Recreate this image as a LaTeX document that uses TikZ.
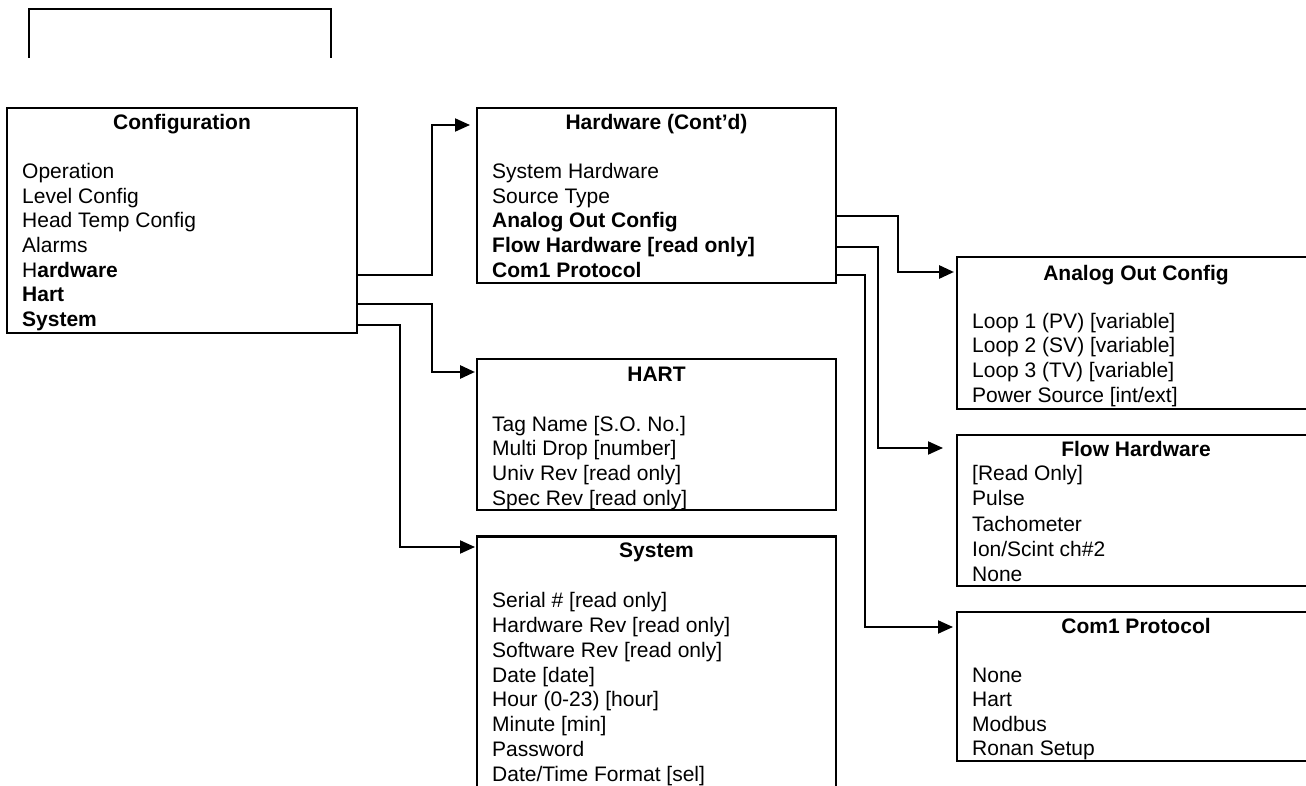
\documentclass[tikz,border=0pt]{standalone}
\usepackage{fontspec}
\setmainfont{Liberation Sans}
\usetikzlibrary{arrows.meta}
\begin{document}
\begin{tikzpicture}[x=1pt,y=-1pt,
  box/.style={draw,line width=2.2pt,rectangle,anchor=north west,inner sep=0pt,outer sep=0pt},
  ttl/.style={anchor=base,inner sep=0pt,font=\fontsize{21}{24}\selectfont\bfseries},
  item/.style={anchor=base west,inner sep=0pt,font=\fontsize{21}{24}\selectfont},
  conn/.style={line width=2pt,-{Triangle[length=15pt,width=13pt]}},
]
\useasboundingbox (0,0) rectangle (1306,786);
\clip (0,0) rectangle (1306,786);

% top partial box
\draw[line width=2.2pt] (29,58) -- (29,9) -- (331,9) -- (331,58);

% boxes
\node[box,minimum width=350pt,minimum height=225pt] (cfg) at (7,108) {};
\node[box,minimum width=359pt,minimum height=175pt] (hw) at (477,108) {};
\node[box,minimum width=359pt,minimum height=151pt] (hart) at (477,359) {};
\node[box,minimum width=359pt,minimum height=280pt] (sys) at (477,536.5) {};
\node[box,minimum width=358pt,minimum height=152pt] (aoc) at (957,257) {};
\node[box,minimum width=358pt,minimum height=151pt] (flow) at (957,435) {};
\node[box,minimum width=358pt,minimum height=149pt] (com) at (957,612) {};

% Configuration
\node[ttl] (cfg-t) at (182,130) {Configuration};
\foreach \t [count=\i from 0] in {Operation, Level Config, Head Temp Config, Alarms,
  {H\textbf{ardware}}, \textbf{Hart}, \textbf{System}}
  \node[item] (cfg-\i) at (22,{179+\i*24.5}) {\t};

% Hardware (Cont'd)
\node[ttl] (hw-t) at (656.5,130) {Hardware (Cont’d)};
\foreach \t [count=\i from 0] in {System Hardware, Source Type, \textbf{Analog Out Config},
  \textbf{Flow Hardware [read only]}, \textbf{Com1 Protocol}}
  \node[item] (hw-\i) at (492,{179+\i*24.5}) {\t};

% HART
\node[ttl] (hart-t) at (656.5,381) {HART};
\foreach \t [count=\i from 0] in {{Tag Name [S.O. No.]}, {Multi Drop [number]},
  {Univ Rev [read only]}, {Spec Rev [read only]}}
  \node[item] (hart-\i) at (492,{431+\i*24.7}) {\t};

% System
\node[ttl] (sys-t) at (656.5,557) {System};
\foreach \t [count=\i from 0] in {{Serial \# [read only]}, {Hardware Rev [read only]},
  {Software Rev [read only]}, {Date [date]}, {Hour (0-23) [hour]}, {Minute [min]},
  Password, {Date/Time Format [sel]}}
  \node[item] (sys-\i) at (492,{607.7+\i*24.8}) {\t};

% Analog Out Config
\node[ttl] (aoc-t) at (1136,280) {Analog Out Config};
\foreach \t [count=\i from 0] in {{Loop 1 (PV) [variable]}, {Loop 2 (SV) [variable]},
  {Loop 3 (TV) [variable]}, {Power Source [int/ext]}}
  \node[item] (aoc-\i) at (972,{328+\i*24.7}) {\t};

% Flow Hardware
\node[ttl] (flow-t) at (1136,456) {Flow Hardware};
\foreach \t [count=\i from 0] in {{[Read Only]}, Pulse, Tachometer, {Ion/Scint ch\#2}, None}
  \node[item] (flow-\i) at (972,{480.5+\i*25.3}) {\t};

% Com1 Protocol
\node[ttl] (com-t) at (1136,633.5) {Com1 Protocol};
\foreach \t [count=\i from 0] in {None, Hart, Modbus, Ronan Setup}
  \node[item] (com-\i) at (972,{682+\i*24.6}) {\t};

% connectors from Configuration
\draw[conn] ([yshift=2pt]cfg-4.base -| cfg.east) -- ++(75,0)
  |- ([xshift=-7pt,yshift=5pt]hw-t.base -| hw.west);
\draw[conn,line width=2.8pt] ([yshift=-2.5pt]cfg-5.base -| cfg.east) -- ++(75,0)
  |- ([xshift=-2pt,yshift=9pt]hart-t.base -| hart.west);
\draw[conn] ([yshift=1pt]cfg-6.base -| cfg.east) -- ++(43,0)
  |- ([xshift=-2pt,yshift=10pt]sys-t.base -| sys.west);

% connectors from Hardware (Cont'd)
\draw[conn,line width=2.8pt] ([yshift=12pt]hw-2.base -| hw.east) -- ++(62,0)
  |- ([xshift=-3pt,yshift=8pt]aoc-t.base -| aoc.west);
\draw[conn] ([yshift=5.5pt]hw-3.base -| hw.east) -- ++(42,0)
  |- ([xshift=-14pt,yshift=8pt]flow-t.base -| flow.west);
\draw[conn] ([yshift=2pt]hw-4.base -| hw.east) -- ++(29,0)
  |- ([xshift=-4pt,yshift=6.5pt]com-t.base -| com.west);
\end{tikzpicture}
\end{document}
